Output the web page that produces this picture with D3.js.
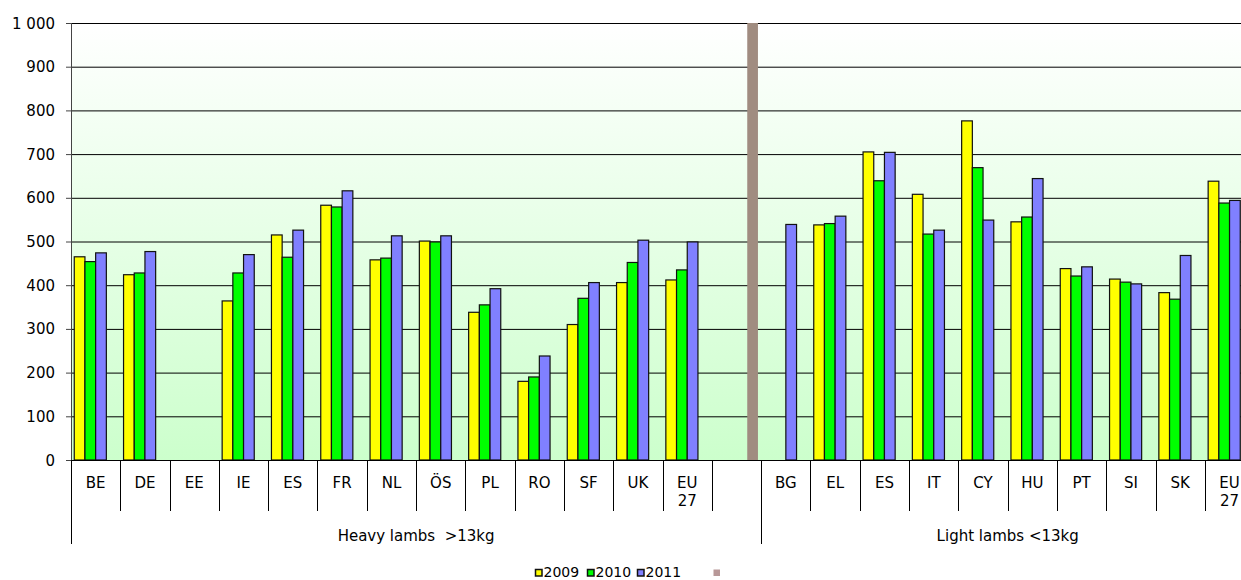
<!DOCTYPE html>
<html>
<head>
<meta charset="utf-8">
<script src="https://cdn.jsdelivr.net/npm/d3@7"></script>
<style>
  body { margin: 0; background: #fff; }
  svg { display: block; font-family: "DejaVu Sans", Verdana, sans-serif; }
</style>
</head>
<body>
<svg id="chart" width="1241" height="580"></svg>
<script>
// categories (blank one holds the separator)
let categories = ["BE", "DE", "EE", "IE", "ES", "FR", "NL", "ÖS", "PL", "RO", "SF", "UK", "EU\n27", "",
                  "BG", "EL", "ES", "IT", "CY", "HU", "PT", "SI", "SK", "EU\n27"];
let groups = [
  {label: "Heavy lambs  >13kg", from: 0, to: 14},
  {label: "Light lambs <13kg", from: 14, to: 24}
];
let seriesNames = ["2009", "2010", "2011", ""];
let v2009 = [465, 424, null, 364, 515, 583, 458, 501, 338, 180, 310, 406, 412, null,
             null, 538, 705, 608, 776, 545, 438, 414, 383, 638];
let v2010 = [454, 428, null, 428, 464, 579, 462, 499, 355, 190, 370, 452, 435, null,
             null, 541, 639, 517, 669, 556, 421, 407, 368, 588];
let v2011 = [474, 477, null, 470, 526, 616, 513, 513, 392, 238, 406, 503, 499, null,
             539, 558, 704, 526, 549, 644, 442, 403, 468, 594];
let vSep = [null, null, null, null, null, null, null, null, null, null, null, null, null, 1000,
            null, null, null, null, null, null, null, null, null, null];
let yTicks = [0, 100, 200, 300, 400, 500, 600, 700, 800, 900, 1000];

let colors = ["#ffff00", "#00ff00", "#8080ff", "#a08c80"];
let legendColors = ["#ffff00", "#00ff00", "#8080ff", "#b89898"];

let svg = d3.select("#chart");
let plotLeft = 71, plotTop = 23, plotBottom = 460;
let bandW = 49.3;
let fontSize = "15px";

let x = d3.scaleBand()
  .domain(d3.range(categories.length))
  .range([plotLeft, plotLeft + bandW * categories.length]);

let xs = d3.scaleBand()
  .domain(d3.range(seriesNames.length))
  .range([3.25, bandW - 3.25]);

let y = d3.scaleLinear().domain([0, 1000]).range([plotBottom, plotTop]);

let plotRight = x.range()[1];

// background gradient
let defs = svg.append("defs");
let grad = defs.append("linearGradient")
  .attr("id", "bg").attr("x1", 0).attr("y1", 0).attr("x2", 0).attr("y2", 1);
grad.append("stop").attr("offset", "0%").attr("stop-color", "#ffffff");
grad.append("stop").attr("offset", "100%").attr("stop-color", "#ccffcc");

svg.append("rect")
  .attr("x", plotLeft).attr("y", plotTop)
  .attr("width", plotRight - plotLeft).attr("height", plotBottom - plotTop)
  .style("fill", "url(#bg)");

// gridlines
svg.selectAll(".grid")
  .data(yTicks.filter(d => d > 0))
  .enter()
  .append("line")
  .attr("x1", plotLeft).attr("x2", plotRight)
  .attr("y1", d => y(d) + 0.5).attr("y2", d => y(d) + 0.5)
  .style("stroke", "#000")
  .style("stroke-width", 1);

// bars
let allSeries = [v2009, v2010, v2011, vSep];
allSeries.forEach(function(vals, s) {
  svg.selectAll(".bar" + s)
    .data(vals.map((v, i) => ({i: i, v: v})).filter(d => d.v != null))
    .enter()
    .append("rect")
    .attr("x", d => x(d.i) + xs(s))
    .attr("y", d => y(d.v))
    .attr("width", xs.bandwidth())
    .attr("height", d => plotBottom - y(d.v))
    .style("fill", colors[s])
    .style("stroke", s == 3 ? "none" : "#111")
    .style("stroke-width", 1.2);
});

// y axis
svg.append("line")
  .attr("x1", plotLeft + 0.5).attr("x2", plotLeft + 0.5)
  .attr("y1", plotTop).attr("y2", plotBottom)
  .style("stroke", "#444");

svg.selectAll(".ytick")
  .data(yTicks)
  .enter()
  .append("line")
  .attr("x1", plotLeft - 5).attr("x2", plotLeft)
  .attr("y1", d => y(d) + 0.5).attr("y2", d => y(d) + 0.5)
  .style("stroke", "#444");

let fmt = d => d >= 1000 ? d3.format(",")(d).replace(",", " ") : String(d);
svg.selectAll(".ylabel")
  .data(yTicks)
  .enter()
  .append("text")
  .attr("x", 55)
  .attr("y", d => y(d) + 5.5)
  .text(fmt)
  .style("text-anchor", "end")
  .style("font-size", fontSize)
  .style("fill", "#000");

// x axis baseline
svg.append("line")
  .attr("x1", plotLeft).attr("x2", plotRight)
  .attr("y1", plotBottom + 0.5).attr("y2", plotBottom + 0.5)
  .style("stroke", "#000");

// category ticks
let groupStarts = groups.map(g => g.from);
svg.selectAll(".xtick")
  .data(d3.range(categories.length + 1))
  .enter()
  .append("line")
  .attr("x1", i => Math.round(x.range()[0] + i * x.step()) + 0.5)
  .attr("x2", i => Math.round(x.range()[0] + i * x.step()) + 0.5)
  .attr("y1", plotBottom)
  .attr("y2", i => groupStarts.includes(i) ? 544 : 511)
  .style("stroke", "#000");

// category labels
svg.selectAll(".xlabel")
  .data(categories)
  .enter()
  .append("text")
  .attr("x", (d, i) => x(i) + x.bandwidth() / 2)
  .attr("y", 488)
  .style("text-anchor", "middle")
  .style("font-size", fontSize)
  .style("fill", "#000")
  .each(function(d) {
    let lines = d.split("\n");
    d3.select(this).selectAll("tspan")
      .data(lines)
      .enter()
      .append("tspan")
      .attr("x", d3.select(this).attr("x"))
      .attr("dy", (l, k) => k == 0 ? 0 : 18)
      .text(l => l);
  });

// group labels
svg.selectAll(".glabel")
  .data(groups)
  .enter()
  .append("text")
  .attr("x", g => (x(g.from) + x.range()[0] + g.to * x.step()) / 2)
  .attr("y", 541)
  .text(g => g.label)
  .style("text-anchor", "middle")
  .style("font-size", fontSize)
  .style("white-space", "pre")
  .style("fill", "#000");

// legend
let legendX = [535, 587, 637, 713];
let leg = svg.selectAll(".legend")
  .data(seriesNames)
  .enter()
  .append("g")
  .attr("transform", (d, i) => "translate(" + legendX[i] + ",569)");
leg.append("rect")
  .attr("x", 0.5).attr("y", 0.5)
  .attr("width", 6.5).attr("height", 6.5)
  .style("fill", (d, i) => legendColors[i])
  .style("stroke", (d, i) => i == 3 ? "none" : "#111")
  .style("stroke-width", 1.5);
leg.append("text")
  .attr("x", 8.5).attr("y", 7.5)
  .text(d => d)
  .style("font-size", "14px")
  .style("fill", "#000");
</script>
</body>
</html>
